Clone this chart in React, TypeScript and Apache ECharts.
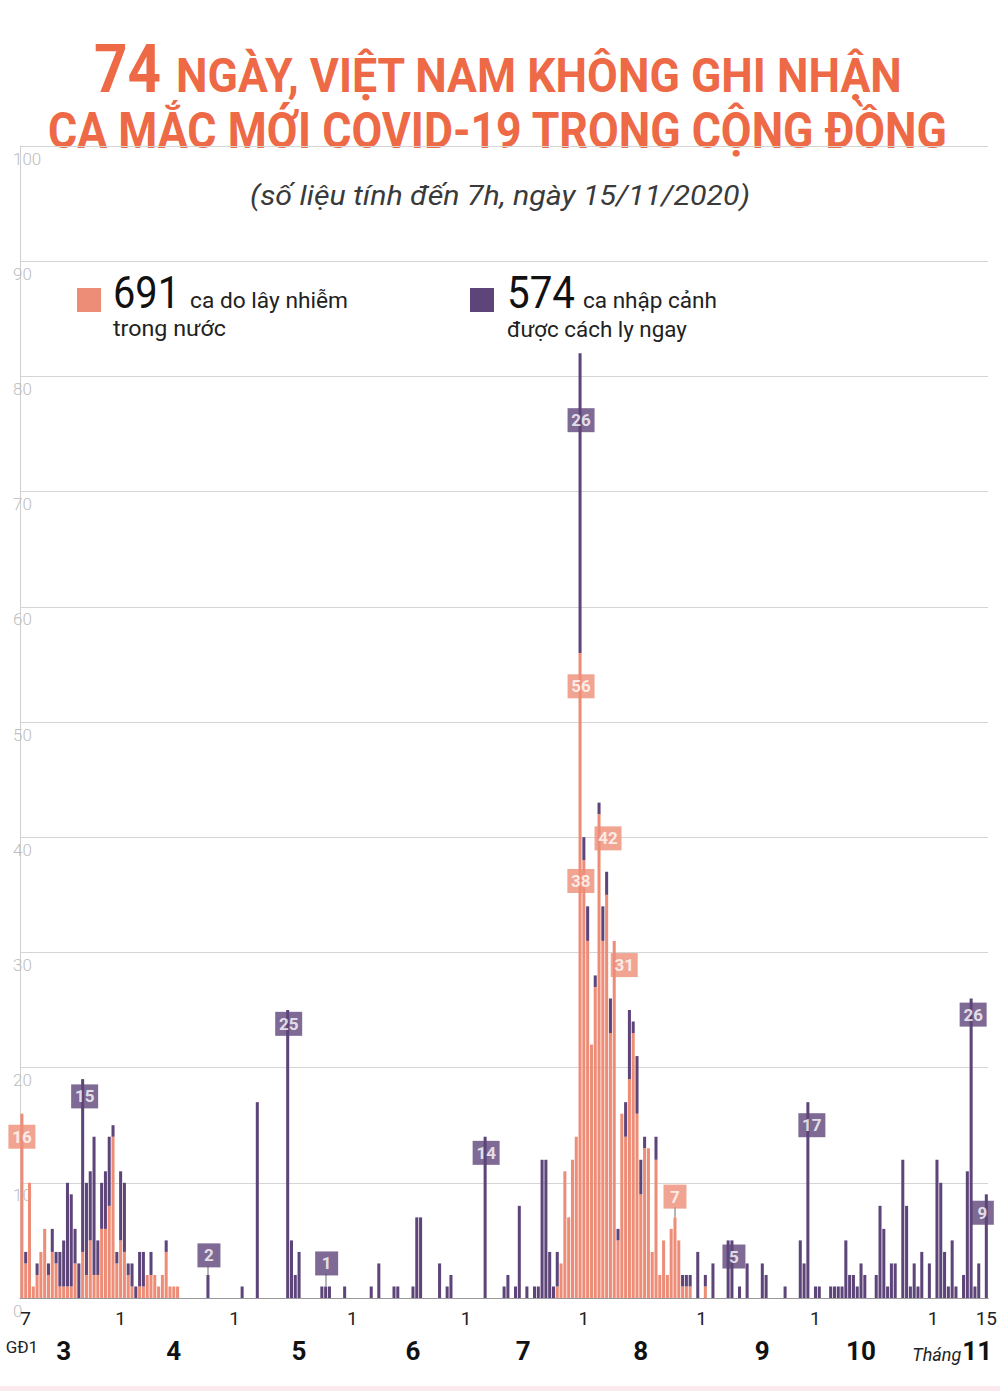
import React, { useEffect, useRef } from "react";
import * as echarts from "echarts";

// ---------- DATA ----------
const MONTHS = [3, 4, 5, 6, 7, 8, 9, 10, 11];
const MONTH_FIRST_DAY = [7, 1, 1, 1, 1, 1, 1, 1, 1];
const MONTH_LAST_DAY = [31, 30, 31, 30, 31, 31, 30, 31, 15];

const categories: string[] = ["GĐ1"];
MONTHS.forEach((m, i) => {
  for (let d = MONTH_FIRST_DAY[i]; d <= MONTH_LAST_DAY[i]; d++) categories.push(`${d}/${m}`);
});

// ca do lây nhiễm trong nước (domestic)
const domestic = [
  16, 3, 10, 1, 2, 4, 6, 2, 4, 3,
  1, 1, 1, 1, 3, 0, 4, 2, 5, 2,
  2, 6, 6, 8, 14, 3, 5, 4, 2, 1,
  0, 1, 1, 2, 2, 2, 1, 2, 4, 1,
  1, 1, 0, 0, 0, 0, 0, 0, 0, 0,
  0, 0, 0, 0, 0, 0, 0, 0, 0, 0,
  0, 0, 0, 0, 0, 0, 0, 0, 0, 0,
  0, 0, 0, 0, 0, 0, 0, 0, 0, 0,
  0, 0, 0, 0, 0, 0, 0, 0, 0, 0,
  0, 0, 0, 0, 0, 0, 0, 0, 0, 0,
  0, 0, 0, 0, 0, 0, 0, 0, 0, 0,
  0, 0, 0, 0, 0, 0, 0, 0, 0, 0,
  0, 0, 0, 0, 0, 0, 0, 0, 0, 0,
  0, 0, 0, 0, 0, 0, 0, 0, 0, 0,
  0, 1, 3, 11, 7, 12, 14, 56, 38, 31,
  22, 27, 42, 31, 35, 23, 31, 5, 16, 14,
  19, 23, 16, 9, 13, 13, 4, 12, 2, 5,
  2, 6, 7, 5, 1, 1, 1, 0, 0, 0,
  1, 0, 0, 0, 0, 0, 0, 0, 0, 0,
  0, 0, 0, 0, 0, 0, 0, 0, 0, 0,
  0, 0, 0, 0, 0, 0, 0, 0, 0, 0,
  0, 0, 0, 0, 0, 0, 0, 0, 0, 0,
  0, 0, 0, 0, 0, 0, 0, 0, 0, 0,
  0, 0, 0, 0, 0, 0, 0, 0, 0, 0,
  0, 0, 0, 0, 0, 0, 0, 0, 0, 0,
  0, 0, 0, 0, 0,
];

// ca nhập cảnh được cách ly ngay (imported)
const imported = [
  0, 1, 0, 0, 1, 0, 0, 1, 2, 1,
  3, 4, 9, 8, 3, 3, 15, 8, 6, 12,
  3, 4, 5, 6, 1, 1, 6, 6, 1, 2,
  1, 3, 3, 0, 2, 0, 0, 0, 1, 0,
  0, 0, 0, 0, 0, 0, 0, 0, 0, 2,
  0, 0, 0, 0, 0, 0, 0, 0, 1, 0,
  0, 0, 17, 0, 0, 0, 0, 0, 0, 0,
  25, 5, 2, 4, 0, 0, 0, 0, 0, 1,
  1, 1, 0, 0, 0, 1, 0, 0, 0, 0,
  0, 0, 1, 0, 3, 0, 0, 0, 1, 1,
  0, 0, 0, 1, 7, 7, 0, 0, 0, 0,
  3, 0, 1, 2, 0, 0, 0, 0, 0, 0,
  0, 0, 14, 0, 0, 0, 0, 1, 2, 0,
  1, 8, 0, 1, 0, 1, 1, 12, 12, 4,
  1, 3, 0, 0, 0, 0, 0, 26, 2, 3,
  0, 1, 1, 3, 2, 3, 0, 1, 0, 3,
  6, 1, 5, 3, 1, 0, 0, 2, 0, 0,
  0, 0, 0, 0, 1, 1, 1, 0, 4, 0,
  1, 0, 3, 0, 0, 0, 5, 5, 0, 1,
  0, 3, 0, 0, 0, 3, 2, 0, 0, 0,
  0, 1, 0, 0, 0, 5, 3, 17, 0, 1,
  1, 0, 0, 1, 1, 1, 1, 5, 2, 2,
  1, 3, 2, 0, 0, 2, 8, 6, 1, 3,
  3, 0, 12, 8, 1, 3, 1, 4, 0, 3,
  0, 12, 10, 4, 1, 5, 1, 0, 2, 11,
  26, 1, 3, 0, 9,
];

// month labels under the axis (category index where each sits)
const MONTH_LABEL_IDX = [0, 11, 40, 73, 103, 132, 163, 195, 221, 245];
const MONTH_LABELS = ["GĐ1", "3", "4", "5", "6", "7", "8", "9", "10", "11"];

// callout boxes: category index, which series, box centre (value units), x shift (px)
const CALLOUT_IDX = [0, 16, 49, 70, 80, 122, 147, 147, 148, 152, 156, 172, 187, 207, 250, 254];
const CALLOUT_KIND = ["d", "i", "i", "i", "i", "i", "i", "d", "d", "d", "d", "d", "i", "i", "i", "i"];
const CALLOUT_Y = [14.0, 17.5, 3.7, 23.8, 3.0, 12.6, 76.2, 53.1, 36.2, 39.9, 28.9, 8.8, 3.6, 15.0, 24.6, 7.4];
const CALLOUT_DX = [0, 2, 1, 1, 1, 1, 1, 1, -3, 9, 10, 0, 2, 4, 2, -4];
const LEADER_IDX = [49, 80, 172];

const SALMON = "#EE8D77";
const PURPLE = "#5E4579";
const TITLE_COLOR = "#EE6946";
const FONT = "Roboto, 'Open Sans', sans-serif";

function fitScale(text: string, font: string, target: number): number {
  const ctx = document.createElement("canvas").getContext("2d");
  if (!ctx) return 1;
  ctx.font = font;
  const w = ctx.measureText(text).width;
  return w > 0 ? target / w : 1;
}

function App() {
  const ref = useRef<HTMLDivElement>(null);

  useEffect(() => {
    if (!ref.current) return;
    const chart = echarts.init(ref.current, undefined, { renderer: "svg" });

    const dayTickIdx: number[] = [];
    categories.forEach((c, i) => {
      if (i === 1 || i === categories.length - 1 || (i > 1 && c.split("/")[0] === "1")) dayTickIdx.push(i);
    });

    const calloutData = CALLOUT_IDX.map((idx, k) => {
      const val = CALLOUT_KIND[k] === "d" ? domestic[idx] : imported[idx];
      const txt = String(val);
      return {
        value: [idx, CALLOUT_Y[k]],
        name: txt,
        symbolSize: txt.length > 1 ? [27, 24] : [23, 24],
        symbolOffset: [CALLOUT_DX[k], 0],
        itemStyle: { color: CALLOUT_KIND[k] === "d" ? SALMON : PURPLE },
      };
    });

    const leaderData = LEADER_IDX.map((idx) => {
      const k = CALLOUT_IDX.indexOf(idx);
      const top = domestic[idx] + imported[idx];
      return [
        { coord: [idx, top] },
        { coord: [idx, CALLOUT_Y[k] - 0.9] },
      ];
    });

    const t1a = "74";
    const t1b = "NGÀY, VIỆT NAM KHÔNG GHI NHẬN";
    const t2 = "CA MẮC MỚI COVID-19 TRONG CỘNG ĐỒNG";
    const sub = "(số liệu tính đến 7h, ngày 15/11/2020)";
    const fA = `bold 66px ${FONT}`;
    const fB = `bold 48px ${FONT}`;
    const fC = `bold 49px ${FONT}`;
    const fS = `italic 27px ${FONT}`;
    const fN = `44px ${FONT}`;
    const fL = `22px ${FONT}`;

    const titleText = (text: string, x: number, y: number, font: string, target: number, fill: string, align = "left") => ({
      type: "text",
      x,
      y,
      scaleX: fitScale(text, font, target),
      silent: true,
      style: { text, font, fill, align, verticalAlign: "middle" },
    });

    const option: any = {
      animation: false,
      backgroundColor: "#ffffff",
      grid: { left: 20, right: 8, top: 146, bottom: 93, containLabel: false },
      xAxis: [
        {
          type: "category",
          data: categories,
          boundaryGap: true,
          axisLine: { show: true, lineStyle: { color: "#9a9a9a", width: 1 } },
          axisTick: { show: false },
          splitLine: { show: false },
          axisLabel: {
            interval: (i: number) => dayTickIdx.includes(i),
            formatter: (v: string) => v.split("/")[0],
            margin: 11,
            fontSize: 19,
            fontFamily: FONT,
            color: "#222",
          },
        },
        {
          type: "category",
          data: categories,
          position: "bottom",
          boundaryGap: true,
          axisLine: { show: false },
          axisTick: { show: false },
          splitLine: { show: false },
          axisLabel: {
            interval: (i: number) => MONTH_LABEL_IDX.includes(i),
            formatter: (_v: string, i: number) => {
              const k = MONTH_LABEL_IDX.indexOf(i);
              if (k === 0) return `{g|${MONTH_LABELS[k]}}`;
              if (k === MONTH_LABELS.length - 1) return `{i|Tháng}{b|${MONTH_LABELS[k]}}`;
              return `{b|${MONTH_LABELS[k]}}`;
            },
            margin: 40,
            rich: {
              g: { fontSize: 17, fontFamily: FONT, color: "#222", verticalAlign: "bottom", padding: [0, 0, 1, 0] },
              i: { fontSize: 18, fontStyle: "italic", fontFamily: FONT, color: "#222", verticalAlign: "bottom", padding: [0, 1, 1, 0] },
              b: { fontSize: 26, fontWeight: "bold", fontFamily: FONT, color: "#111", verticalAlign: "bottom" },
            },
          },
        },
      ],
      yAxis: {
        type: "value",
        min: 0,
        max: 100,
        interval: 10,
        axisLine: { show: true, lineStyle: { color: "#cfcfcf" } },
        axisTick: { show: false },
        splitLine: { show: true, lineStyle: { color: "#d5d5d5", width: 1 } },
        axisLabel: {
          inside: true,
          margin: -7,
          align: "left",
          verticalAlign: "top",
          padding: [4, 0, 0, 0],
          fontSize: 17,
          fontFamily: FONT,
          fontWeight: 300,
          color: "#bdbdbd",
        },
      },
      series: [
        {
          name: "ca do lây nhiễm trong nước",
          type: "bar",
          stack: "cases",
          data: domestic,
          barCategoryGap: "20%",
          itemStyle: { color: SALMON },
          silent: true,
        },
        {
          name: "ca nhập cảnh được cách ly ngay",
          type: "bar",
          stack: "cases",
          data: imported,
          barCategoryGap: "20%",
          itemStyle: { color: PURPLE },
          silent: true,
        },
        {
          type: "scatter",
          symbol: "rect",
          data: calloutData,
          z: 5,
          silent: true,
          label: {
            show: true,
            position: "inside",
            formatter: "{b}",
            color: "#fff",
            fontWeight: "bold",
            fontSize: 17,
            fontFamily: FONT,
          },
          markLine: {
            silent: true,
            symbol: "none",
            label: { show: false },
            lineStyle: { color: "#9d9d9d", width: 1.5, type: "solid" },
            data: leaderData,
          },
        },
      ],
      graphic: [
        titleText(t1a, 94, 69, fA, 67, TITLE_COLOR),
        titleText(t1b, 176, 75, fB, 727, TITLE_COLOR),
        titleText(t2, 48, 131, fC, 900, TITLE_COLOR),
        titleText(sub, 500, 196, fS, 500, "#3a3a3a", "center"),
        { type: "rect", shape: { x: 77, y: 288, width: 24, height: 24 }, style: { fill: SALMON }, silent: true },
        { type: "rect", shape: { x: 470, y: 288, width: 24, height: 24 }, style: { fill: PURPLE }, silent: true },
        titleText("691", 113, 293, fN, 67, "#111"),
        titleText("ca do lây nhiễm", 190, 300, fL, 158, "#222"),
        titleText("trong nước", 113, 329, fL, 113, "#222"),
        titleText("574", 507, 293, fN, 68, "#111"),
        titleText("ca nhập cảnh", 583, 300, fL, 134, "#222"),
        titleText("được cách ly ngay", 507, 329, fL, 180, "#222"),
        { type: "rect", shape: { x: 0, y: 1386, width: 1000, height: 5 }, style: { fill: "#fbe9ee" }, silent: true },
      ],
    };

    chart.setOption(option);
    return () => chart.dispose();
  }, []);

  return (
    <div
      ref={ref}
      style={{ position: "absolute", left: 0, top: 0, width: 1000, height: 1391, background: "#fff" }}
    />
  );
}

export default App;
